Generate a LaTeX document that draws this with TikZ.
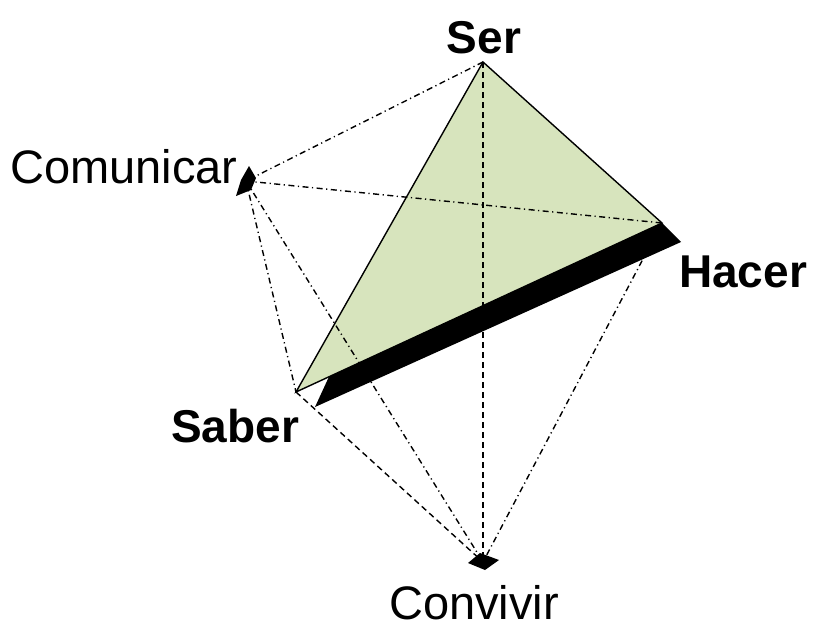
\documentclass[tikz,border=0pt]{standalone}
\usepackage{fontspec}
\usetikzlibrary{calc}
\setmainfont{Liberation Sans}
\definecolor{facegreen}{RGB}{215,228,189}
\tikzset{
  dashdot/.style={line width=1.4pt, dash pattern=on 6pt off 3.5pt on 1.2pt off 3.5pt},
  dashline/.style={line width=1.4pt, dash pattern=on 6pt off 4pt},
  edge/.style={line width=1.4pt, line join=miter},
  boldlbl/.style={inner sep=0pt, font=\fontsize{46}{50}\selectfont\bfseries},
  plainlbl/.style={inner sep=0pt, anchor=base, font=\fontsize{47}{52}\selectfont},
  marker/.style={fill=black, draw=none}
}
\begin{document}
\begin{tikzpicture}[x=1pt,y=-1pt]
\useasboundingbox (0,0) rectangle (813,626);
\coordinate (ser) at (483,62);
\coordinate (hac) at (662,223);
\coordinate (sab) at (296,392);
\coordinate (com) at (246,181);
\coordinate (con) at (483,562);
% green face
\fill[facegreen] (ser) -- (hac) -- (sab) -- cycle;
% hidden edges
\draw[dashdot] (ser) -- (com);
\draw[dashdot] (com) -- (hac);
\draw[dashdot] (com) -- (sab);
\draw[dashdot] (com) -- (con);
\draw[dashdot] (hac) -- (con);
\draw[dashline] (sab) -- (con);
\draw[dashline] (ser) -- (con);
% black band
\fill[black] ($(sab)!0.09!(hac)$) -- (hac) -- (681,242) -- (315,407) -- cycle;
% face outline
\draw[edge] (ser) -- (hac) -- (sab) -- cycle;
% markers
\fill[marker] (249,166) -- (256,178) -- (251,190) -- (236,196) -- (241,180) -- cycle;
\fill[marker] (468,563) -- (480,553) -- (499,560) -- (485,570) -- cycle;
% labels
\node[boldlbl] (lser) at (484,38) {Ser};
\node[boldlbl] (lhac) at (743,272) {Hacer};
\node[boldlbl] (lsab) at (235,426) {Saber};
\node[plainlbl] (lcom) at (124,183) {Comunicar};
\node[plainlbl] (lcon) at (474,619) {Convivir};
\end{tikzpicture}
\end{document}
